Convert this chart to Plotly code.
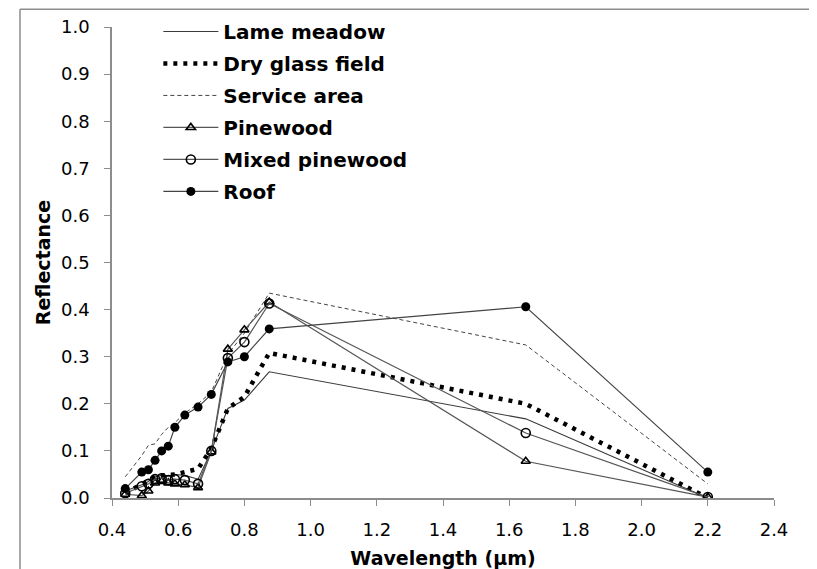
import plotly.graph_objects as go

# Wavelengths (µm)
wl_vis = [0.44, 0.49, 0.51, 0.53, 0.55, 0.57, 0.59, 0.62, 0.66, 0.70, 0.75, 0.80, 0.875, 1.65, 2.2]

lame_meadow = [0.015, 0.028, 0.035, 0.045, 0.048, 0.047, 0.050, 0.048, 0.040, 0.100, 0.190, 0.208, 0.268, 0.168, 0.000]
dry_glass = [0.010, 0.030, 0.038, 0.045, 0.048, 0.048, 0.050, 0.055, 0.062, 0.105, 0.190, 0.215, 0.308, 0.200, 0.000]
service_area = [0.045, 0.090, 0.112, 0.115, 0.135, 0.150, 0.160, 0.180, 0.200, 0.225, 0.305, 0.350, 0.435, 0.325, 0.030]
pinewood = [0.008, 0.005, 0.015, 0.032, 0.035, 0.032, 0.030, 0.028, 0.022, 0.098, 0.316, 0.357, 0.416, 0.078, 0.002]
mixed_pinewood = [0.010, 0.025, 0.030, 0.040, 0.042, 0.038, 0.040, 0.038, 0.030, 0.100, 0.297, 0.331, 0.413, 0.138, 0.002]
roof = [0.020, 0.055, 0.060, 0.080, 0.100, 0.110, 0.150, 0.176, 0.193, 0.220, 0.289, 0.300, 0.359, 0.406, 0.055]

names = ["Lame meadow", "Dry glass field", "Service area", "Pinewood", "Mixed pinewood", "Roof"]

x_ticks = [0.4, 0.6, 0.8, 1.0, 1.2, 1.4, 1.6, 1.8, 2.0, 2.2, 2.4]
y_ticks = [0.0, 0.1, 0.2, 0.3, 0.4, 0.5, 0.6, 0.7, 0.8, 0.9, 1.0]

fig = go.Figure()

fig.add_trace(go.Scatter(x=wl_vis, y=lame_meadow, name=names[0], mode="lines",
                         line=dict(color="#3a3a3a", width=1.1), legendgroup="a"))
fig.add_trace(go.Scatter(x=wl_vis, y=dry_glass, name=names[1], mode="lines",
                         line=dict(color="#000000", width=4.5, dash="4px,6px"), legendgroup="b"))
fig.add_trace(go.Scatter(x=wl_vis, y=service_area, name=names[2], mode="lines",
                         line=dict(color="#444444", width=1, dash="4px,3px"), legendgroup="c"))
fig.add_trace(go.Scatter(x=wl_vis, y=pinewood, name=names[3], mode="lines+markers",
                         line=dict(color="#555555", width=1.2),
                         marker=dict(symbol="triangle-up-open", size=8, color="#000000",
                                     line=dict(width=1.6, color="#000000")), legendgroup="d"))
fig.add_trace(go.Scatter(x=wl_vis, y=mixed_pinewood, name=names[4], mode="lines+markers",
                         line=dict(color="#555555", width=1.2),
                         marker=dict(symbol="circle-open", size=9, color="#000000",
                                     line=dict(width=1.6, color="#000000")), legendgroup="e"))
fig.add_trace(go.Scatter(x=wl_vis, y=roof, name=names[5], mode="lines+markers",
                         line=dict(color="#444444", width=1.2),
                         marker=dict(symbol="circle", size=9, color="#000000"), legendgroup="f"))

font_main = "DejaVu Sans, Verdana, sans-serif"

fig.update_layout(
    width=809, height=561,
    margin=dict(l=104, r=43, t=19, b=71, autoexpand=False),
    paper_bgcolor="white", plot_bgcolor="white",
    font=dict(family=font_main, size=18, color="#000000"),
    legend=dict(x=0.07, y=1.032, xanchor="left", yanchor="top",
                bgcolor="rgba(0,0,0,0)", itemwidth=55, tracegroupgap=3,
                font=dict(family=font_main, size=20, color="#000000", weight="bold"),
                traceorder="grouped"),
    xaxis=dict(range=[0.4, 2.4], tickvals=x_ticks, ticktext=[f"{v:.1f}" for v in x_ticks],
               showgrid=False, zeroline=False, showline=True, linecolor="#8c8c8c", linewidth=1.5,
               ticks="outside", ticklen=6, tickcolor="#8c8c8c", tickwidth=1.2,
               ticklabelstandoff=9, automargin=False,
               tickfont=dict(family=font_main, size=18, color="#000000"),
               title=dict(text="<b>Wavelength (µm)</b>", font=dict(size=19), standoff=13)),
    yaxis=dict(range=[0, 1.0], tickvals=y_ticks, ticktext=[f"{v:.1f}" for v in y_ticks],
               showgrid=False, zeroline=False, showline=True, linecolor="#8c8c8c", linewidth=1.5,
               ticks="outside", ticklen=6, tickcolor="#8c8c8c", tickwidth=1.2,
               ticklabelstandoff=11, automargin=False,
               tickfont=dict(family=font_main, size=18, color="#000000"),
               title=dict(text="<b>Reflectance</b>", font=dict(size=19), standoff=5)),
    shapes=[
        dict(type="line", xref="paper", yref="paper", x0=-0.139, x1=1.1, y0=1.0378, y1=1.0378,
             line=dict(color="#8c8c8c", width=1.5)),
        dict(type="line", xref="paper", yref="paper", x0=-0.139, x1=-0.139, y0=1.0378, y1=-0.2,
             line=dict(color="#8c8c8c", width=1.5)),
    ],
)

fig.write_html("out.html")
